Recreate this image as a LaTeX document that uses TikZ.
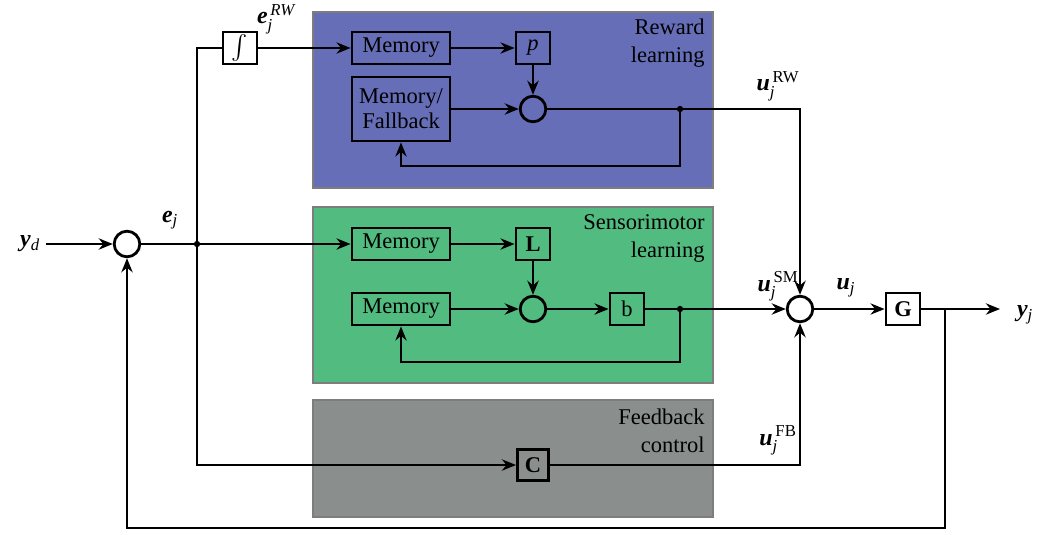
\documentclass[tikz,border=0pt]{standalone}
\usepackage{amsmath}
\usepackage{fontspec}
\setmainfont{Liberation Serif}
\usetikzlibrary{arrows.meta}

\definecolor{rwblue}{RGB}{102,110,184}
\definecolor{smgreen}{RGB}{82,188,128}
\definecolor{fbgray}{RGB}{138,142,140}
\definecolor{edgegray}{RGB}{125,125,125}
\newcommand{\vect}[1]{\textbf{\textit{#1}}}

\begin{document}
\begin{tikzpicture}[x=0.025cm, y=-0.025cm, font=\fontsize{16}{18}\selectfont,
    line width=2pt, >={Stealth[length=10pt,width=8pt]},
    region/.style={draw=edgegray, line width=1.8pt},
    blk/.style={draw, line width=2pt, minimum width=0.85cm, minimum height=0.8cm, inner sep=1pt},
    mem/.style={blk, minimum width=2.45cm},
    sumc/.style={draw, circle, line width=2pt, minimum size=0.64cm, inner sep=0pt},
    jn/.style={circle, fill, inner sep=0pt, minimum size=4.5pt},
    tag/.style={anchor=north east, align=right, inner sep=0pt, font=\fontsize{16}{20}\selectfont},
    lbl/.style={inner sep=0pt, font=\fontsize{17}{19}\selectfont}]
	\useasboundingbox (0,0) rectangle (1043,534);
	
	% Shaded regions
	\draw[region, fill=rwblue] (313,12) rectangle (713,188);
	\draw[region, fill=smgreen] (313,207) rectangle (713,383);
	\draw[region, fill=fbgray] (313,400) rectangle (713,517);
	\node[tag] (trw) at (706,17) {Reward\\learning};
	\node[tag] (tsm) at (706,213) {Sensorimotor\\learning};
	\node[tag] (tfb) at (706,407) {Feedback\\control};
	
	% Reward learning blocks
	\node[blk] (int) at (240,48) {$\int$};
	\node[mem] (m1) at (401,48) {Memory};
	\node[blk] (p) at (533,48) {\textit{p}};
	\node[mem, minimum height=1.6cm, align=center] (mf) at (401,109) {Memory/\\Fallback};
	\node[sumc] (s1) at (533,109) {};
	\coordinate (j1) at (680,109);
	
	% Sensorimotor learning blocks
	\node[mem] (m2) at (401,244) {Memory};
	\node[blk] (L) at (533,244) {\textbf{L}};
	\node[mem] (m3) at (401,309) {Memory};
	\node[sumc] (s2) at (533,309) {};
	\node[blk] (b) at (627,309) {b};
	\coordinate (j2) at (680,309);
	
	% Feedback control block
	\node[blk, minimum width=0.78cm, minimum height=0.78cm] (C) at (533,465) {\textbf{C}};
	
	% Main loop
	\node[lbl] (yd) at (30,244) {\vect{y}$_{\textit{d}}$};
	\node[sumc] (s0) at (127,244) {};
	\coordinate (ej) at (197,244);
	\node[sumc] (s3) at (800,309) {};
	\node[blk] (G) at (903,309) {\textbf{G}};
	\coordinate (j3) at (945,309);
	\coordinate (yout) at (1000,309);
	\node[lbl] (yj) at (1025,315) {\vect{y}$_{\textit{j}}$};
	
	% Signal labels
	\node[lbl] (lerw) at (276,19) {\vect{e}$_{\textit{j}}^{\,\textit{RW}}$};
	\node[lbl] (lej) at (170,220) {\vect{e}$_{\textit{j}}$};
	\node[lbl] (lurw) at (778,86) {\vect{u}$_{\textit{j}}^{\,\textrm{RW}}$};
	\node[lbl] (lusm) at (778,286) {\vect{u}$_{\textit{j}}^{\,\textrm{SM}}$};
	\node[lbl] (luj) at (846,288) {\vect{u}$_{\textit{j}}$};
	\node[lbl] (lufb) at (778,440) {\vect{u}$_{\textit{j}}^{\,\textrm{FB}}$};
	
	% Connectors
	\draw[->] ([xshift=3pt]yd.east) -- (s0);
	\draw[->] (s0) -- (ej) -- (m2);
	\draw (ej) |- (int);
	\draw[->] (ej) |- (C);
	\draw[->] (int) -- (m1);
	\draw[->] (m1) -- (p);
	\draw[->] (p) -- (s1);
	\draw[->] (mf) -- (s1);
	\draw[->] (s1) -- (j1) -| (s3);
	\draw[->] (j1) -- ++(0,57) -| (mf);
	\draw[->] (m2) -- (L);
	\draw[->] (L) -- (s2);
	\draw[->] (m3) -- (s2);
	\draw[->] (s2) -- (b);
	\draw[->] (b) -- (j2) -- (s3);
	\draw[->] (j2) -- ++(0,53) -| (m3);
	\draw[->] (C) -| (s3);
	\draw[->] (s3) -- (G);
	\draw[->] (G) -- (j3) -- (yout);
	\draw[->] (j3) -- ++(0,219) -| (s0);
	
	% Junction dots
	\node[jn] at (ej) {};
	\node[jn] at (j1) {};
	\node[jn] at (j2) {};
\end{tikzpicture}
\end{document}
